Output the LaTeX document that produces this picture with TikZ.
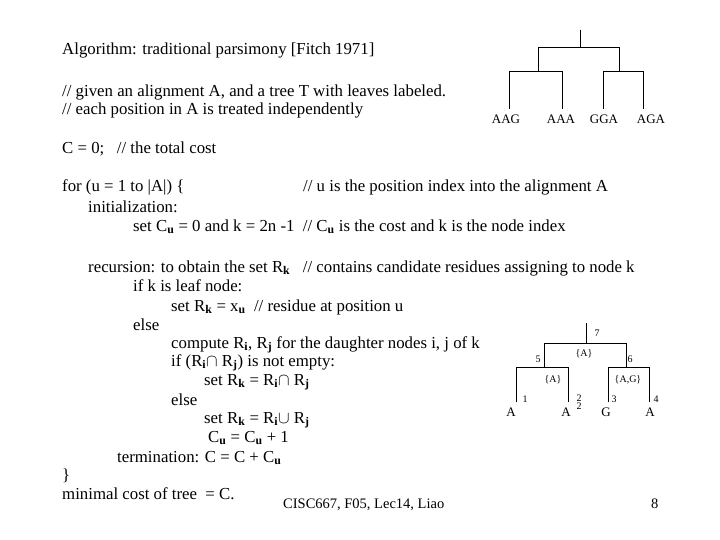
\documentclass[tikz,border=0pt]{standalone}
\usepackage{fontspec}
\setmainfont{Liberation Serif}
\begin{document}
\begin{tikzpicture}[x=1pt,y=-1pt,
  tx/.style={anchor=base west,inner sep=0pt,font=\fontsize{16.8}{18}\selectfont},
  sm/.style={anchor=base,inner sep=0pt,font=\fontsize{10}{12}\selectfont},
  lf/.style={anchor=base,inner sep=0pt,font=\fontsize{13}{15}\selectfont},
  br/.style={line width=1pt}]
\useasboundingbox (0,0) rectangle (720,540);
\newcommand{\sbb}[1]{\textsubscript{\textbf{#1}}}
\node[tx] (l1) at (62,55) {Algorithm: traditional parsimony [Fitch 1971]};
\node[tx] (l2) at (62,97) {// given an alignment A, and a tree T with leaves labeled.};
\node[tx] (l3) at (62,115) {// each position in A is treated independently};
\node[tx] (l4) at (62,154) {C = 0;\ \ \ // the total cost};
\node[tx] (l5) at (62,192) {for (u = 1 to |A|) \{};
\node[tx] (l5b) at (303,192) {// u is the position index into the alignment A};
\node[tx] (l6) at (88,212) {initialization:};
\node[tx] (l7) at (133,231) {set C\sbb{u} = 0 and k = 2n -1\ \ // C\sbb{u} is the cost and k is the node index};
\node[tx] (l8) at (88,272) {recursion: to obtain the set R\sbb{k}\ \ \ // contains candidate residues assigning to node k};
\node[tx] (l9) at (133,291) {if k is leaf node:};
\node[tx] (l10) at (171,311) {set R\sbb{k} = x\sbb{u}\ \ // residue at position u};
\node[tx] (l11) at (133,330) {else};
\node[tx] (l12) at (171,348) {compute R\sbb{i}, R\sbb{j} for the daughter nodes i, j of k};
\node[tx] (l13) at (171,366) {if (R\sbb{i}$\cap$ R\sbb{j}) is not empty:};
\node[tx] (l14) at (204,385) {set R\sbb{k} = R\sbb{i}$\cap$ R\sbb{j}};
\node[tx] (l15) at (171,405) {else};
\node[tx] (l16) at (204,423) {set R\sbb{k} = R\sbb{i}$\cup$ R\sbb{j}};
\node[tx] (l17) at (208,442) {C\sbb{u} = C\sbb{u} + 1};
\node[tx] (l18) at (117,462) {termination: C = C + C\sbb{u}};
\node[tx] (l19) at (62,480) {\}};
\node[tx] (l20) at (62,499) {minimal cost of tree\ \ = C.};
\node[tx,font=\fontsize{14.5}{16}\selectfont] (ft) at (283,508) {CISC667, F05, Lec14, Liao};
\node[tx,font=\fontsize{14.5}{16}\selectfont] (pg) at (651,508) {8};
% top tree
\draw[br] (580,30) -- (580,48) (538,72) |- (619,48) -- (619,72)
  (509,109) |- (562,72) -- (562,109) (603,109) |- (643,72) -- (643,109);
\node[lf] (t1) at (506,124) {AAG};
\node[lf] (t2) at (561,124) {AAA};
\node[lf] (t3) at (604,124) {GGA};
\node[lf] (t4) at (651,124) {AGA};
% bottom tree
\draw[br] (586,323) -- (586,343) (544,367) |- (626,343) -- (626,367)
  (516,402) |- (568,367) -- (568,402) (608,402) |- (649,367) -- (649,402);
\node[lf] (b1) at (511,416) {A};
\node[lf] (b2) at (566,416) {A};
\node[lf] (b3) at (606,416) {G};
\node[lf] (b4) at (650,416) {A};
\node[sm] (n7) at (597,336) {7};
\node[sm] (s7) at (584,356) {\{A\}};
\node[sm] (n5) at (538,362) {5};
\node[sm] (n6) at (630,362) {6};
\node[sm] (s5) at (553,382) {\{A\}};
\node[sm] (s6) at (628,382) {\{A,G\}};
\node[sm] (n1) at (525,402) {1};
\node[sm] (n2) at (579,401) {2};
\node[sm] (n2b) at (579,409) {2};
\node[sm] (n3) at (614,402) {3};
\node[sm] (n4) at (656,402) {4};
\end{tikzpicture}
\end{document}
